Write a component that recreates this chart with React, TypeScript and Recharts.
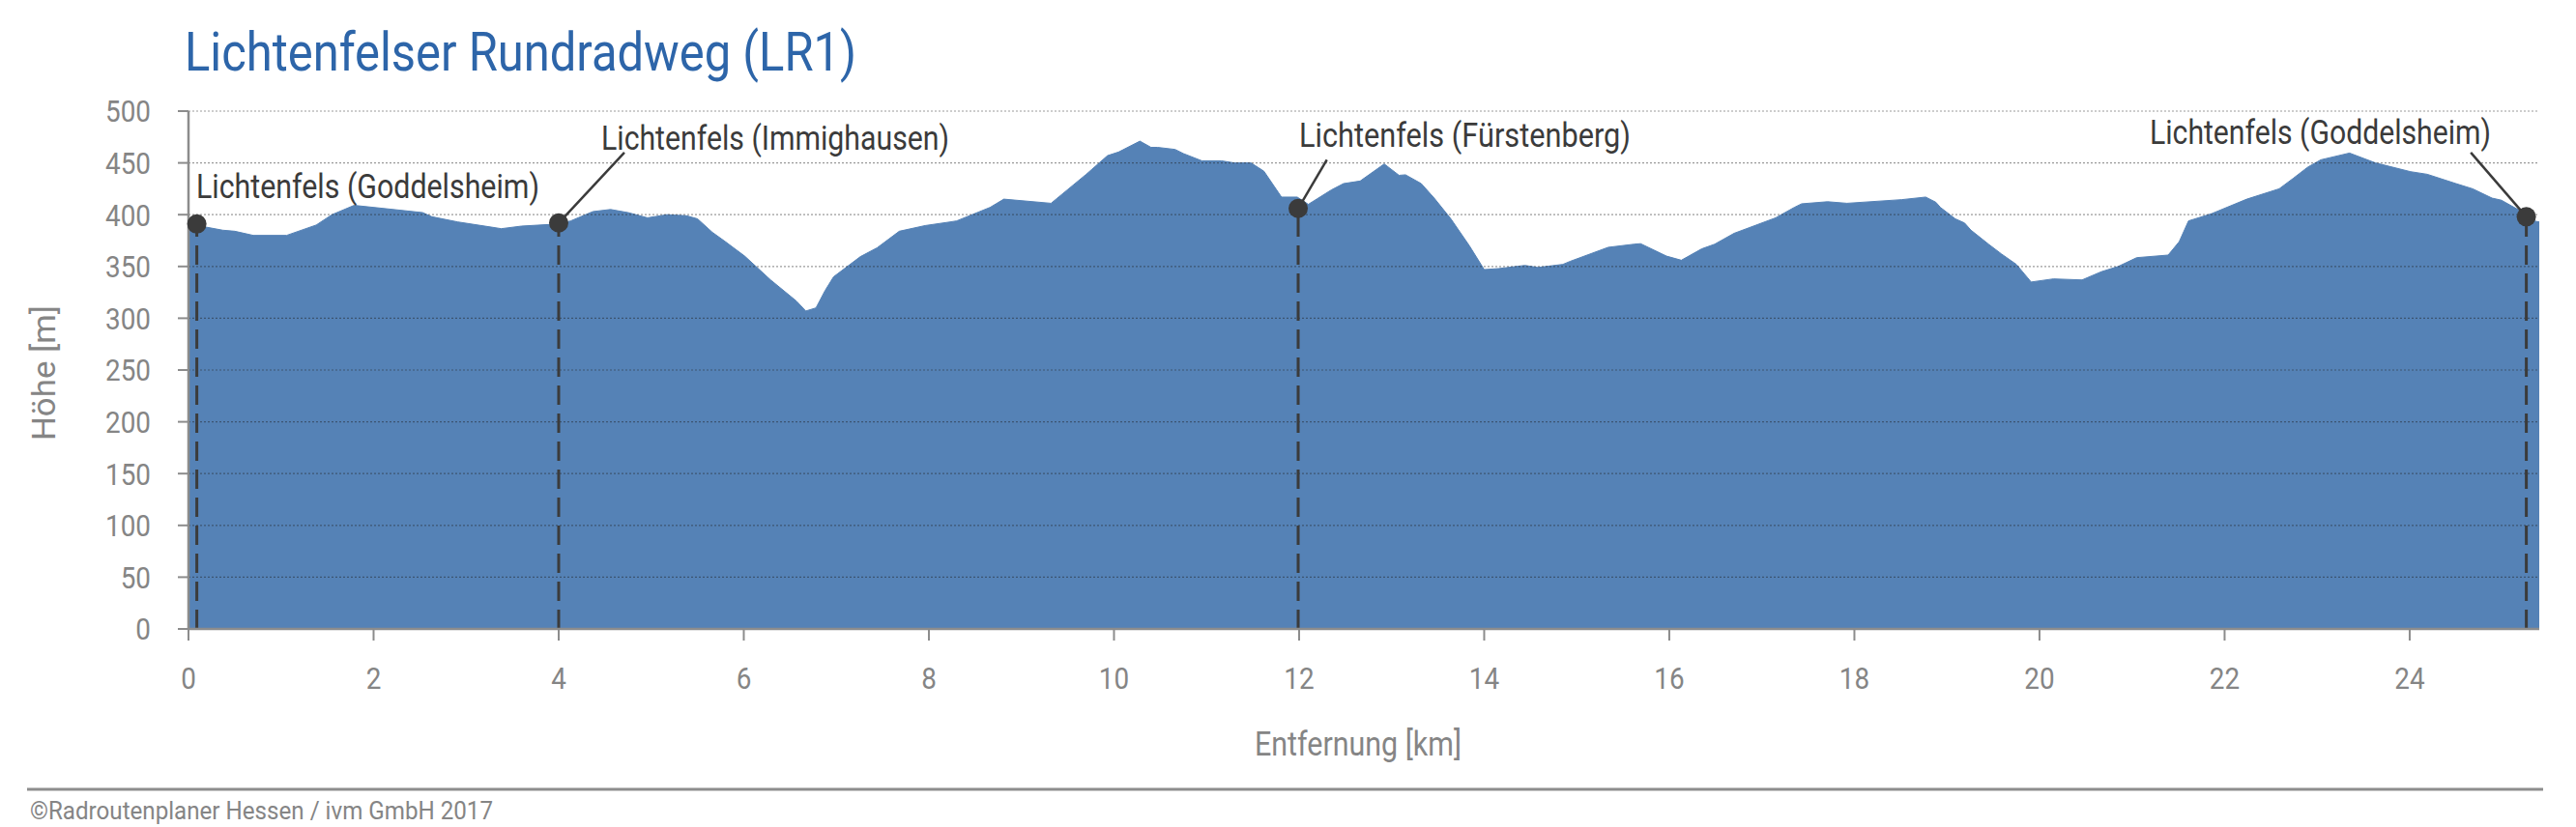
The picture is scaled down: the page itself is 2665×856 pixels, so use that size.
import { AreaChart, Area, XAxis, YAxis, ReferenceLine, ReferenceDot } from "recharts";

// elevation profile
const distanceKm = [
  0, 0.09, 0.19, 0.37, 0.5, 0.7, 1.06, 1.38, 1.55, 1.79, 2.11, 2.53, 2.63, 2.91, 3.38, 3.6, 3.99,
  4.13, 4.37, 4.56, 4.75, 4.96, 5.17, 5.38, 5.5, 5.66, 5.8, 6.01, 6.29, 6.57, 6.67, 6.78, 6.88,
  6.97, 7.26, 7.44, 7.68, 7.96, 8.23, 8.3, 8.66, 8.81, 9.32, 9.7, 9.93, 10.05, 10.28, 10.4, 10.47,
  10.66, 10.75, 10.95, 11.16, 11.3, 11.48, 11.62, 11.81, 11.98, 12.1, 12.35, 12.48, 12.66, 12.92,
  13.08, 13.15, 13.32, 13.46, 13.64, 13.84, 14.0, 14.16, 14.44, 14.58, 14.85, 14.93, 15.34, 15.62,
  15.69, 15.97, 16.13, 16.35, 16.49, 16.7, 17.15, 17.35, 17.43, 17.71, 17.92, 18.51, 18.77, 18.88,
  18.93, 19.09, 19.19, 19.26, 19.45, 19.59, 19.75, 19.91, 20.15, 20.46, 20.67, 20.85, 21.05, 21.39,
  21.51, 21.61, 21.86, 22.24, 22.59, 22.74, 22.9, 23.04, 23.35, 23.63, 24.01, 24.19, 24.5, 24.68,
  24.89, 24.99, 25.17, 25.26, 25.34, 25.4,
];

const elevationM = [
  390, 391, 388, 385, 384, 380, 380, 390, 400, 409, 406, 402, 398, 393, 386.5, 389, 391,
  394, 403, 405, 402, 397, 400, 399, 396, 383, 374, 360, 337, 316.5, 307, 310, 327,
  340, 359.5, 368, 384, 389.5, 393, 394, 407, 415, 411, 439, 457, 460.5, 471, 465, 465,
  463, 459, 452, 452, 450, 450, 442, 417, 417, 410, 424, 430, 432.5, 449,
  438, 438.5, 430, 416, 396, 370, 347, 348, 351, 349, 352, 355, 368.5, 371.5,
  372, 360, 356, 367, 371.5, 382, 397, 407, 410.5, 412.5, 411, 414.5, 417, 412,
  407, 396, 392, 385, 371.5, 362, 352, 335, 338, 337, 345, 350, 358.5, 361,
  374, 394, 401, 415, 425, 435, 446, 453, 459.5, 450, 441.5, 439, 430, 425,
  416, 414, 405, 399, 394, 393,
];

const xTicks = [0, 2, 4, 6, 8, 10, 12, 14, 16, 18, 20, 22, 24];
const yTicks = [0, 50, 100, 150, 200, 250, 300, 350, 400, 450, 500];

const stopNames = [
  "Lichtenfels (Goddelsheim)",
  "Lichtenfels (Immighausen)",
  "Lichtenfels (Fürstenberg)",
  "Lichtenfels (Goddelsheim)",
];
const stopKm = [0.09, 4.0, 11.99, 25.26];
const stopElevationM = [391, 392, 406, 398];

const data = distanceKm.map((km, i) => ({ km, elev: elevationM[i] }));

// label placement (pixels) and leader line ends (data units)
const labelSpots = [
  { x: 203, y: 205, w: 355, leader: null },
  { x: 622, y: 155, w: 360, leader: { km: 4.71, elev: 460 } },
  { x: 1344, y: 152, w: 343, leader: { km: 12.3, elev: 453 } },
  { x: 2224, y: 149, w: 353, leader: { km: 24.66, elev: 460 } },
];

const FONT = "Roboto, 'Open Sans', sans-serif";
const GREY = "#858585";
const DARK = "#3b3b3b";

const XTick = ({ x, y, payload }: any) => (
  <g transform={`translate(${x},${y})`}>
    <text transform="scale(0.87,1)" textAnchor="middle" dy="0.71em" fill={GREY} fontSize={32} fontFamily={FONT}>
      {payload.value}
    </text>
  </g>
);

const YTick = ({ x, y, payload }: any) => (
  <g transform={`translate(${x},${y})`}>
    <text transform="scale(0.87,1)" textAnchor="end" dy="0.355em" fill={GREY} fontSize={32} fontFamily={FONT}>
      {payload.value}
    </text>
  </g>
);

const App = () => {
  return (
    <div style={{ position: "absolute", left: 0, top: 0, width: 2665, height: 856, background: "#fff" }}>
      <AreaChart width={2665} height={856} data={data} margin={{ top: 115, right: 38, bottom: 145, left: 0 }}>
        <XAxis
          dataKey="km"
          type="number"
          domain={[0, 25.4]}
          ticks={xTicks}
          allowDataOverflow
          height={60}
          tickSize={12}
          tickMargin={27}
          tick={<XTick />}
          axisLine={{ stroke: "#8c8c8c", strokeWidth: 2.5 }}
          tickLine={{ stroke: "#8c8c8c", strokeWidth: 2 }}
        />
        <YAxis
          type="number"
          domain={[0, 500]}
          ticks={yTicks}
          width={195}
          tickSize={11}
          tickMargin={28}
          tick={<YTick />}
          axisLine={{ stroke: "#8c8c8c", strokeWidth: 2.5 }}
          tickLine={{ stroke: "#8c8c8c", strokeWidth: 2 }}
        />
        <Area
          type="linear"
          dataKey="elev"
          stroke="#5582b6"
          strokeWidth={1}
          fill="#5582b6"
          fillOpacity={1}
          baseValue={0}
          isAnimationActive={false}
        />
        {yTicks.slice(1).map((v) => (
          <ReferenceLine key={`g${v}`} y={v} stroke="rgba(30,30,30,0.45)" strokeWidth={1.2} strokeDasharray="2 2" />
        ))}
        {stopKm.map((km, i) => (
          <ReferenceLine
            key={`d${i}`}
            segment={[{ x: km, y: 0 }, { x: km, y: stopElevationM[i] }]}
            stroke={DARK}
            strokeWidth={3}
            strokeDasharray="20 9"
          />
        ))}
        {labelSpots.map((s, i) =>
          s.leader ? (
            <ReferenceLine
              key={`l${i}`}
              segment={[{ x: stopKm[i], y: stopElevationM[i] }, { x: s.leader.km, y: s.leader.elev }]}
              stroke={DARK}
              strokeWidth={2.5}
            />
          ) : null
        )}
        {stopKm.map((km, i) => (
          <ReferenceDot key={`p${i}`} x={km} y={stopElevationM[i]} r={10} fill={DARK} stroke="none" />
        ))}
      </AreaChart>

      <svg
        width={2665}
        height={856}
        style={{ position: "absolute", left: 0, top: 0, pointerEvents: "none" }}
        fontFamily={FONT}
      >
        <text x={191} y={73} fontSize={56} fill="#2d65a9" textLength={695} lengthAdjust="spacingAndGlyphs">
          Lichtenfelser Rundradweg (LR1)
        </text>
        {labelSpots.map((s, i) => (
          <text key={i} x={s.x} y={s.y} fontSize={35} fill={DARK} textLength={s.w} lengthAdjust="spacingAndGlyphs">
            {stopNames[i]}
          </text>
        ))}
        <text
          transform="translate(57,386) rotate(-90)"
          textAnchor="middle"
          fontSize={33}
          fill={GREY}
          textLength={140}
          lengthAdjust="spacingAndGlyphs"
        >
          Höhe [m]
        </text>
        <text x={1405} y={782} textAnchor="middle" fontSize={35} fill={GREY} textLength={214} lengthAdjust="spacingAndGlyphs">
          Entfernung [km]
        </text>
        <line x1={28} x2={2631} y1={817} y2={817} stroke="#8d8d8d" strokeWidth={3} />
        <text x={31} y={848} fontSize={26} fill={GREY} textLength={479} lengthAdjust="spacingAndGlyphs">
          ©Radroutenplaner Hessen / ivm GmbH 2017
        </text>
      </svg>
    </div>
  );
};

export default App;
